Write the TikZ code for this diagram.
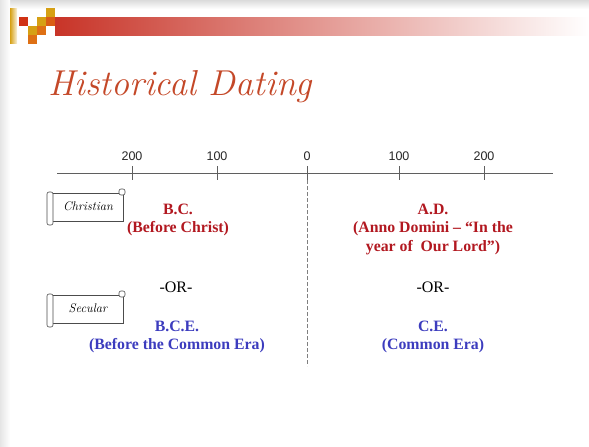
\documentclass[tikz,border=0pt]{standalone}
\usepackage{fontspec}
\newfontfamily\bodyFont{Liberation Serif}
\newfontfamily\labelFont{Liberation Sans}
\usetikzlibrary{positioning}
\tikzstyle{slide} = [x = 1pt, y = -1pt]
\definecolor{titleColor}{RGB}{196,72,40}
\definecolor{christColor}{RGB}{178,24,32}
\definecolor{eraColor}{RGB}{60,60,190}
\definecolor{axisColor}{RGB}{95,95,95}
\definecolor{barRed}{RGB}{200,52,40}
\definecolor{logoGold}{RGB}{214,160,20}
\definecolor{logoOrange}{RGB}{222,112,20}
\definecolor{logoRed}{RGB}{208,50,20}
\tikzstyle{axisLine} = [color=axisColor, line width=.8pt]
\tikzstyle{dashLine} = [color=axisColor!80, line width=.8pt, dash pattern=on 4pt off 2pt]
\tikzstyle{tickLabel} = [font=\labelFont\fontsize{12.5}{14}\selectfont, text=black!85]
\tikzstyle{eraText} = [font=\bodyFont\bfseries\fontsize{15.8}{18.5}\selectfont, align=center]
\tikzstyle{orText} = [font=\bodyFont\fontsize{16}{18}\selectfont]
\tikzstyle{titleStyle} = [font=\itshape\fontsize{36}{40}\selectfont, text=titleColor, inner sep=0pt]
\tikzstyle{scrollStyle} = [draw=black!70, fill=white, line width=.6pt]
\tikzstyle{scrollText} = [font=\itshape\fontsize{12.5}{14}\selectfont]
\newcommand{\logoSquare}[3]{\fill [#3] (#1,#2) rectangle +(9,9);}
\newcommand{\scrollBox}[3]{
  \draw [scrollStyle] (50,#2+3) rectangle (123,#2+31);
  \draw [scrollStyle, rounded corners=2pt] (47,#2+2) rectangle (53,#2+35);
  \draw [scrollStyle, rounded corners=2pt] (119,#2-1) rectangle (125,#2+5);
  \node [scrollText] (#1) at (88,#2+16) {#3};
}

\begin{document}
\begin{tikzpicture}[slide]
  \useasboundingbox (0,0) rectangle (589,447);
  % slide frame
  \shade [top color=black!14, bottom color=white] (0,0) rectangle (589,9);
  \shade [left color=black!10, right color=white] (0,0) rectangle (10,447);
  % header bar and logo
  \shade [left color=barRed, right color=white] (55,17) rectangle (589,35);
  \shade [left color=logoGold, right color=logoGold!15] (10,8) rectangle (17,43);
  \logoSquare{19}{17}{logoRed}
  \logoSquare{46}{8}{logoGold}
  \logoSquare{37}{17}{logoGold}
  \logoSquare{46}{17}{logoOrange!70!logoRed}
  \logoSquare{28}{26}{logoGold}
  \logoSquare{37}{26}{logoOrange}
  \logoSquare{28}{35}{logoOrange}
  \node [titleStyle, anchor=base west] (title) at (48,95) {Historical Dating};

  % time line
  \coordinate (axisStart) at (57,173);
  \coordinate (axisEnd) at (553,173);
  \draw [axisLine] (axisStart) -- (axisEnd);
  \foreach \tickX/\tickName/\tickText in {132/twoBC/200, 217/oneBC/100, 307/zero/0, 399/oneAD/100, 484/twoAD/200} {
    \coordinate (\tickName) at (\tickX,173);
    \draw [axisLine] (\tickX,166) -- (\tickX,180);
    \node [tickLabel] (\tickName Label) at (\tickX,156) {\tickText};
  }
  \coordinate (dashEnd) at (307,366);
  \draw [dashLine] (zero) ++(0,7) -- (dashEnd);

  % labels
  \scrollBox{christian}{190}{Christian}
  \scrollBox{secular}{292}{Secular}
  \node [eraText, text=christColor] (bc) at (178,220) {B.C.\\(Before Christ)};
  \node [eraText, text=christColor] (ad) at (433,229) {A.D.\\(Anno Domini – “In the\\year of\ \ Our Lord”)};
  \node [orText] (orLeft) at (176,287) {-OR-};
  \node [orText] (orRight) at (433,287) {-OR-};
  \node [eraText, text=eraColor] (bce) at (177,337) {B.C.E.\\(Before the Common Era)};
  \node [eraText, text=eraColor] (ce) at (433,337) {C.E.\\(Common Era)};
\end{tikzpicture}
\end{document}
